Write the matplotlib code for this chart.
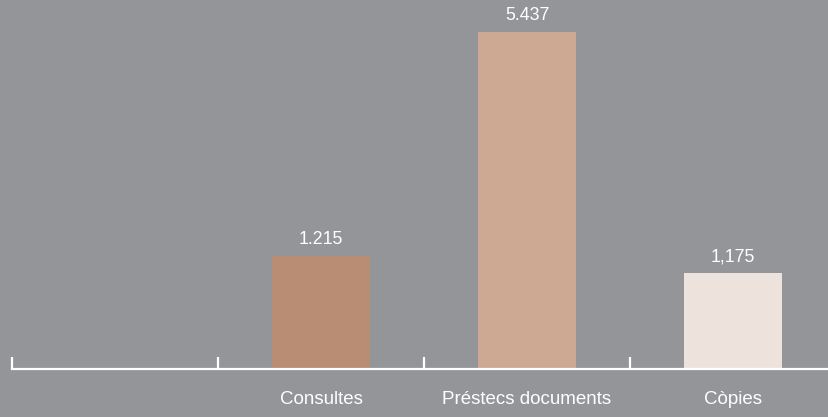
import matplotlib
matplotlib.use("Agg")
import matplotlib.pyplot as plt

categories = ["", "Consultes", "Préstecs documents", "Còpies"]
bar_heights = [None, 1823, 5437, 1549]
value_labels = [None, "1.215", "5.437", "1,175"]
colors = [None, "#B88D73", "#CDA994", "#EDE3DC"]

BG = "#939598"
W, H = 829, 417
fig = plt.figure(figsize=(W / 100, H / 100), dpi=100, facecolor=BG)
ax = fig.add_axes([12 / W, 48 / H, 824 / W, 360 / H])
ax.set_facecolor(BG)
plt.rcParams['font.family'] = ['Liberation Sans', 'DejaVu Sans']
FAM = ['Liberation Sans', 'DejaVu Sans']

for i, (h, lab, c) in enumerate(zip(bar_heights, value_labels, colors)):
    if h is None:
        continue
    ax.bar(i, h, width=0.48, color=c, zorder=2)
    ax.annotate(lab, (i, h), xytext=(0, 5.5), textcoords="offset points",
                ha="center", va="bottom", color="white", fontsize=12.8,
                family=FAM)

ax.set_xlim(-0.5, len(categories) - 0.5)
ax.set_ylim(0, 5437 * 360 / 337)

for s in ["top", "right", "left"]:
    ax.spines[s].set_visible(False)
ax.spines["bottom"].set_color("white")
ax.spines["bottom"].set_linewidth(1.6)
ax.spines["bottom"].set_zorder(3)
ax.set_yticks([])

ax.set_xticks([k - 0.5 for k in range(len(categories))])
ax.set_xticklabels([])
ax.tick_params(axis="x", which="major", direction="in", length=9, width=1.6,
               color="white")
ax.set_xticks(range(len(categories)), minor=True)
ax.set_xticklabels(categories, minor=True, color="white", fontsize=13.5,
                   family=FAM)
ax.tick_params(axis="x", which="minor", length=0, pad=15.5)

fig.savefig("out.png", dpi=100, facecolor=BG)
